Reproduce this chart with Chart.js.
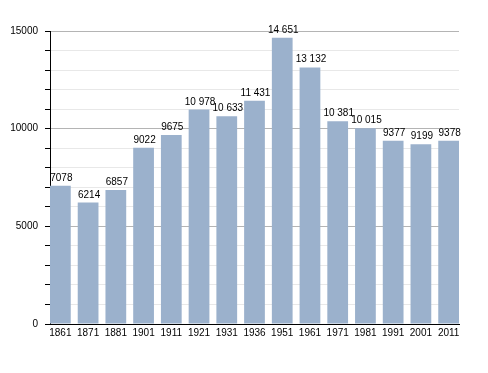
<!DOCTYPE html>
<html>
<head>
<meta charset="utf-8">
<script src="https://cdn.jsdelivr.net/npm/chart.js@4/dist/chart.umd.min.js"></script>
<style>
  body { margin: 0; background: #fff; }
  #wrap { width: 488px; height: 373px; }
</style>
</head>
<body>
<div id="wrap"><canvas id="popChart" width="488" height="373"></canvas></div>
<script>
var years = ["1861", "1871", "1881", "1901", "1911", "1921", "1931", "1936", "1951", "1961", "1971", "1981", "1991", "2001", "2011"];
var population = [7078, 6214, 6857, 9022, 9675, 10978, 10633, 11431, 14651, 13132, 10381, 10015, 9377, 9199, 9378];
var yLabels = [0, 5000, 10000, 15000];

// bar half width in category units, so first/last bars touch the axis ends
var half = 0.374;

var fmt = function(v){
  var s = String(v);
  if (v >= 10000) {
    s = s.slice(0, s.length - 3) + ' ' + s.slice(s.length - 3);
  }
  return s;
}

var points = population.map(function(v, i){ return { x: i, y: v }; });

var barLabels = {
  id: 'barLabels',
  afterDatasetsDraw: function(chart){
    var ctx = chart.ctx;
    var meta = chart.getDatasetMeta(0);
    ctx.save();
    ctx.fillStyle = '#000';
    ctx.font = '10px "Liberation Sans", Arial, sans-serif';
    ctx.textAlign = 'center';
    ctx.textBaseline = 'alphabetic';
    meta.data.forEach(function(bar, i){
      ctx.fillText(fmt(population[i]), bar.x + 1, bar.y - 5);
    });
    ctx.restore();
  }
}

var context = document.getElementById('popChart').getContext('2d');
var myChart = new Chart(context, {
  type: 'bar',
  data: {
    datasets: [{
      data: points,
      backgroundColor: '#9bb1cc',
      borderWidth: 0,
      categoryPercentage: 1,
      barPercentage: half * 2
    }]
  },
  options: {
    responsive: false,
    animation: false,
    layout: { padding: { top: 31, right: 29, left: 0, bottom: 0 } },
    plugins: {
      legend: { display: false },
      tooltip: { enabled: false }
    },
    scales: {
      x: {
        type: 'linear',
        min: -half,
        max: years.length - 1 + half,
        offset: false,
        grid: { display: false, drawTicks: false },
        border: { color: '#000', width: 1 },
        afterBuildTicks: function(scale){
          scale.ticks = years.map(function(y, i){ return { value: i }; });
        },
        ticks: {
          color: '#000',
          padding: 3,
          maxRotation: 0,
          autoSkip: false,
          font: { family: '"Liberation Sans", Arial, sans-serif', size: 10 },
          callback: function(v){
            return years[v] !== undefined ? years[v] : '';
          }
        },
        afterFit: function(scale){ scale.height = 49; }
      },
      y: {
        min: 0,
        max: 15000,
        grid: {
          color: function(c){
            return (c.tick && c.tick.value % 5000 === 0) ? '#b4b4b4' : '#e8e8e8';
          },
          tickColor: '#000',
          tickLength: 5,
          drawTicks: true
        },
        border: { color: '#000', width: 1 },
        ticks: {
          stepSize: 1000,
          color: '#000',
          padding: 7,
          font: { family: '"Liberation Sans", Arial, sans-serif', size: 10 },
          callback: function(v){
            return yLabels.indexOf(v) >= 0 ? String(v) : '';
          }
        },
        afterFit: function(scale){ scale.width = 50; }
      }
    }
  },
  plugins: [barLabels]
});
</script>
</body>
</html>
